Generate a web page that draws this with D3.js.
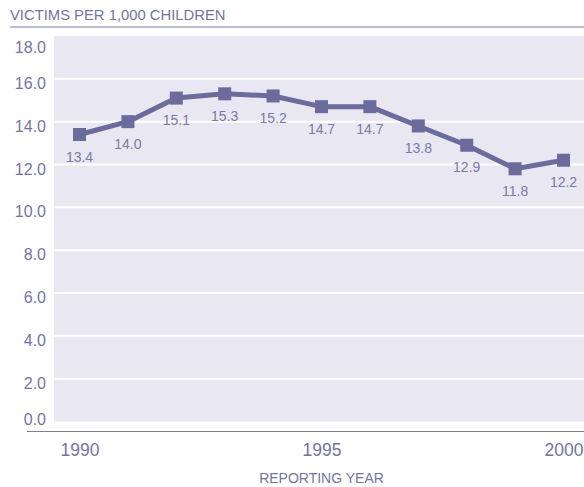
<!DOCTYPE html>
<html>
<head>
<meta charset="utf-8">
<script src="https://cdn.jsdelivr.net/npm/d3@7"></script>
<style>
  html, body { margin: 0; padding: 0; background: #ffffff; }
  svg { display: block; font-family: "Liberation Sans", Arial, sans-serif; }
</style>
</head>
<body>
<svg id="chart" width="584" height="487"></svg>
<script>
// Child maltreatment victimization rate, 1990–2000
const years = [1990, 1991, 1992, 1993, 1994, 1995, 1996, 1997, 1998, 1999, 2000];
const rates = [13.4, 14.0, 15.1, 15.3, 15.2, 14.7, 14.7, 13.8, 12.9, 11.8, 12.2];
const yTicks = [0, 2, 4, 6, 8, 10, 12, 14, 16, 18];
const xTicks = [1990, 1995, 2000];
const yTitle = "VICTIMS PER 1,000 CHILDREN";
const xTitle = "REPORTING YEAR";

const textColor = "#7474a2";
const markColor = "#6b6b9c";
const panelColor = "#e9e7f1";

const svg = d3.select("#chart");

const panel = { left: 54, right: 584, top: 36, bottom: 421.5 };

const x = d3.scaleLinear().domain([1990, 2000]).range([79.5, 563.5]);
const y = d3.scaleLinear().domain([0, 18]).range([panel.bottom, panel.top]);

// Header
svg.append("text")
  .attr("x", 10).attr("y", 20)
  .attr("fill", textColor)
  .attr("font-size", 14.8)
  .text(yTitle);
svg.append("line")
  .attr("x1", 10).attr("x2", 584)
  .attr("y1", 27).attr("y2", 27)
  .attr("stroke", "#a3a3c2").attr("stroke-width", 1.5);

// Plot panel
svg.append("rect")
  .attr("x", panel.left).attr("y", panel.top)
  .attr("width", panel.right - panel.left)
  .attr("height", panel.bottom - panel.top)
  .attr("fill", panelColor);

// Horizontal gridlines
svg.append("g")
  .selectAll("line")
  .data(yTicks.filter(d => d > 0 && d < 18))
  .join("line")
  .attr("x1", panel.left).attr("x2", panel.right)
  .attr("y1", d => y(d)).attr("y2", d => y(d))
  .attr("stroke", "#ffffff").attr("stroke-width", 2);

// Y axis labels
const yAxis = d3.axisLeft(y).tickValues(yTicks).tickFormat(d3.format(".1f")).tickSize(0).tickPadding(0);
const gy = svg.append("g").attr("transform", "translate(46,0)").call(yAxis);
gy.select(".domain").remove();
gy.selectAll("text")
  .attr("fill", textColor)
  .attr("font-size", 16)
  .attr("font-family", "Liberation Sans, Arial, sans-serif")
  .attr("dy", d => d === 18 ? "1.0em" : d === 0 ? "0.2em" : "0.6em");

// X axis line and labels
svg.append("line")
  .attr("x1", 27).attr("x2", 584)
  .attr("y1", 431.5).attr("y2", 431.5)
  .attr("stroke", "#7c7ca6").attr("stroke-width", 1.2);

const xAxis = d3.axisBottom(x).tickValues(xTicks).tickFormat(d3.format("d")).tickSize(0).tickPadding(0);
const gx = svg.append("g").attr("transform", "translate(0,444)").call(xAxis);
gx.select(".domain").remove();
gx.selectAll("text")
  .attr("fill", textColor)
  .attr("font-size", 17.5)
  .attr("font-family", "Liberation Sans, Arial, sans-serif")
  .attr("dy", "0.68em");

svg.append("text")
  .attr("x", x(1995)).attr("y", 483)
  .attr("text-anchor", "middle")
  .attr("fill", textColor)
  .attr("font-size", 14)
  .text(xTitle);

// Series line
const data = years.map((yr, i) => ({ year: yr, value: rates[i] }));
svg.append("path")
  .datum(data)
  .attr("fill", "none")
  .attr("stroke", markColor)
  .attr("stroke-width", 5)
  .attr("stroke-linejoin", "round")
  .attr("d", d3.line().x(d => x(d.year)).y(d => y(d.value)));

// Square markers
const size = 13;
svg.append("g")
  .selectAll("rect")
  .data(data)
  .join("rect")
  .attr("x", d => x(d.year) - size / 2)
  .attr("y", d => y(d.value) - size / 2)
  .attr("width", size).attr("height", size)
  .attr("fill", markColor);

// Value labels below each point
svg.append("g")
  .selectAll("text")
  .data(data)
  .join("text")
  .attr("x", d => x(d.year))
  .attr("y", d => y(d.value) + 27)
  .attr("text-anchor", "middle")
  .attr("fill", "#7a7aa8")
  .attr("font-size", 14)
  .text(d => d.value.toFixed(1));
</script>
</body>
</html>
